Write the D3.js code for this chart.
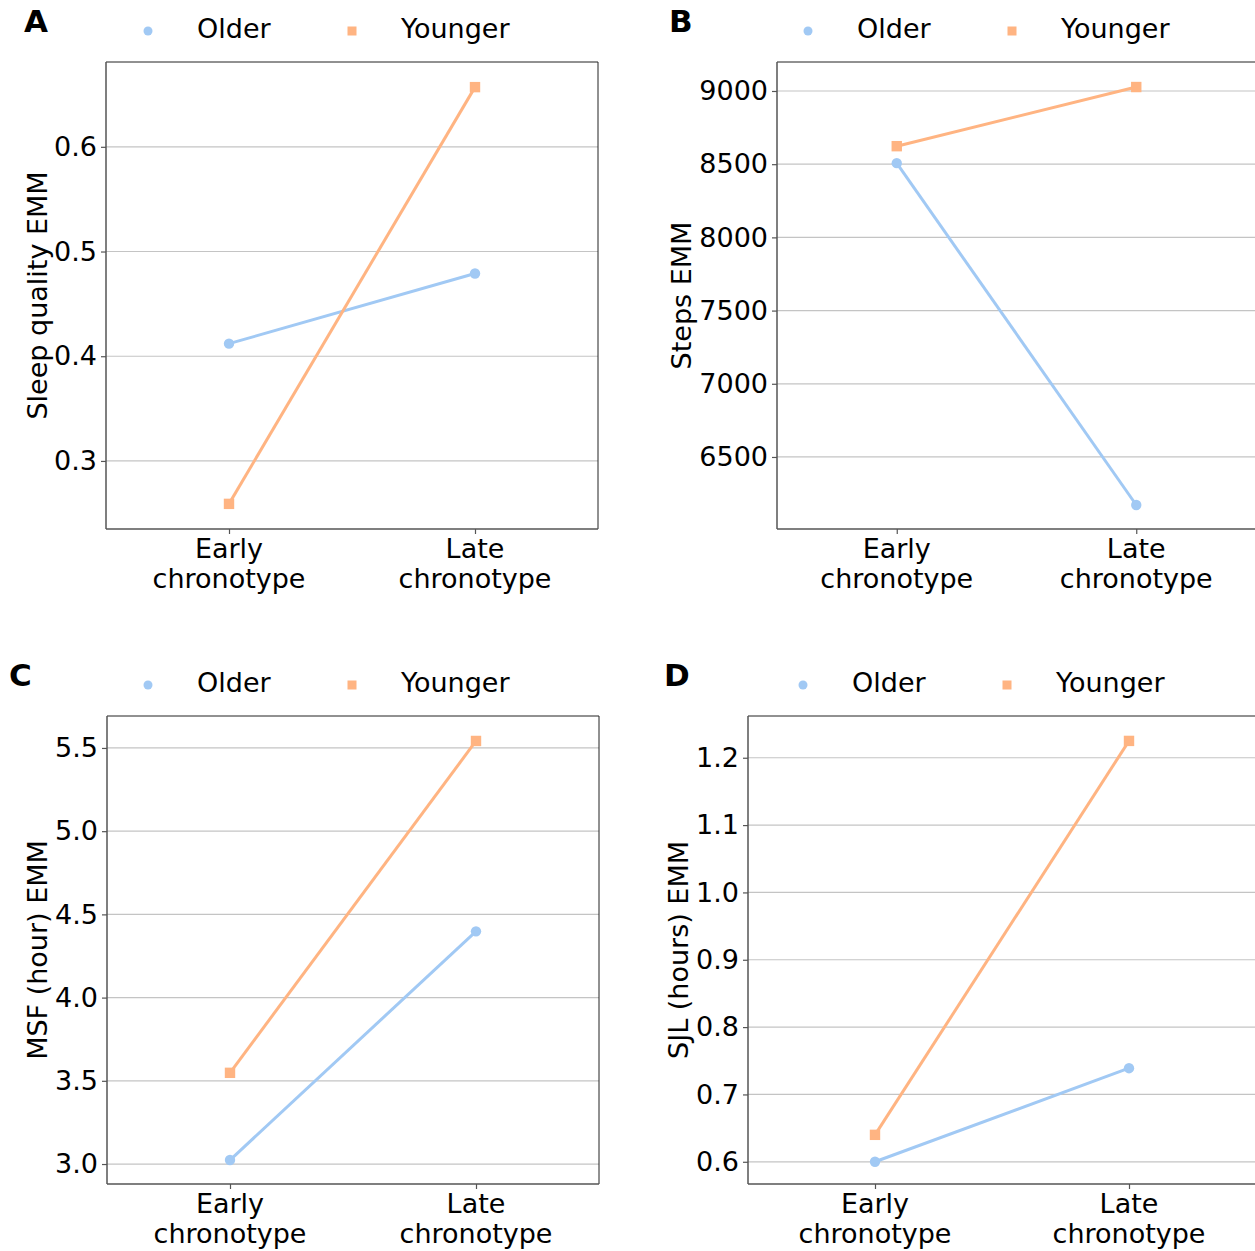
<!DOCTYPE html>
<html>
<head>
<meta charset="utf-8">
<script src="https://cdn.jsdelivr.net/npm/d3@7"></script>
<style>
  body { margin: 0; background: #fff; }
  svg text { font-family: "DejaVu Sans", sans-serif; }
</style>
</head>
<body>
<div id="chart"></div>
<script>
// categories and groups
var categories = ["Early\nchronotype", "Late\nchronotype"];
var groups = ["Older", "Younger"];

// EMM values per panel, [early, late]
var sleepOlder = [0.412, 0.479],
  sleepYounger = [0.259, 0.657];
var stepsOlder = [8507, 6172],
  stepsYounger = [8623, 9027];
var msfOlder = [3.024, 4.398],
  msfYounger = [3.548, 5.542];
var sjlOlder = [0.6, 0.739],
  sjlYounger = [0.64, 1.225];

// y ticks
var sleepTicks = [0.3, 0.4, 0.5, 0.6];
var stepsTicks = [6500, 7000, 7500, 8000, 8500, 9000];
var msfTicks = [3.0, 3.5, 4.0, 4.5, 5.0, 5.5];
var sjlTicks = [0.6, 0.7, 0.8, 0.9, 1.0, 1.1, 1.2];

var color = d3.scaleOrdinal().domain(groups).range(["#a1c9f4", "#ffb482"]);

var panels = [
  {
    letter: "A", label: "Sleep quality EMM",
    older: sleepOlder, younger: sleepYounger, ticks: sleepTicks, fmt: ".1f",
    domain: [0.235, 0.681],
    box: { left: 106, right: 598, top: 62, bottom: 529 },
    letterX: 24, labelX: 37, legendX: 148,
  },
  {
    letter: "B", label: "Steps EMM",
    older: stepsOlder, younger: stepsYounger, ticks: stepsTicks, fmt: "d",
    domain: [6008, 9198],
    box: { left: 777, right: 1256, top: 62, bottom: 529 },
    letterX: 669, labelX: 681, legendX: 808,
  },
  {
    letter: "C", label: "MSF (hour) EMM",
    older: msfOlder, younger: msfYounger, ticks: msfTicks, fmt: ".1f",
    domain: [2.88, 5.692],
    box: { left: 107, right: 599, top: 716, bottom: 1184 },
    letterX: 9, labelX: 37, legendX: 148,
  },
  {
    letter: "D", label: "SJL (hours) EMM",
    older: sjlOlder, younger: sjlYounger, ticks: sjlTicks, fmt: ".1f",
    domain: [0.567, 1.262],
    box: { left: 748, right: 1256, top: 716, bottom: 1184 },
    letterX: 664, labelX: 678, legendX: 803,
  },
];

var svg = d3
  .select("#chart")
  .append("svg")
  .attr("width", 1255)
  .attr("height", 1251);

var fontSize = 27;

panels.forEach(function (p) {
  var b = p.box;
  var x = d3
    .scalePoint()
    .domain(categories)
    .range([b.left, b.right])
    .padding(0.5);
  var y = d3.scaleLinear().domain(p.domain).range([b.bottom, b.top]);

  var g = svg.append("g");

  // grid
  g.append("g")
    .selectAll("line")
    .data(p.ticks)
    .join("line")
    .attr("x1", b.left)
    .attr("x2", b.right)
    .attr("y1", (d) => y(d))
    .attr("y2", (d) => y(d))
    .attr("stroke", "#c4c4c4")
    .attr("stroke-width", 1.2);

  // y axis
  var yAxis = g
    .append("g")
    .attr("transform", "translate(" + b.left + ",0)")
    .call(
      d3.axisLeft(y).tickValues(p.ticks).tickSize(5).tickPadding(4)
        .tickFormat(d3.format(p.fmt))
    );
  yAxis.select(".domain").remove();
  yAxis.selectAll(".tick line").attr("stroke", "#555").attr("stroke-width", 1.2);
  yAxis
    .selectAll(".tick text")
    .attr("fill", "#000")
    .style("font-size", fontSize + "px")
    .style("font-family", "DejaVu Sans");

  // x axis
  var xAxis = g
    .append("g")
    .attr("transform", "translate(0," + b.bottom + ")")
    .call(d3.axisBottom(x).tickSize(5).tickFormat(""));
  xAxis.select(".domain").remove();
  xAxis.selectAll(".tick line").attr("stroke", "#555").attr("stroke-width", 1.2);

  categories.forEach(function (c) {
    var lines = c.split("\n");
    var t = g
      .append("text")
      .attr("x", x(c))
      .attr("y", b.bottom + 29)
      .attr("text-anchor", "middle")
      .style("font-size", fontSize + "px");
    lines.forEach(function (l, i) {
      t.append("tspan")
        .attr("x", x(c))
        .attr("dy", i === 0 ? 0 : 30)
        .text(l);
    });
  });

  // spines
  g.append("line")
    .attr("x1", b.left).attr("x2", b.right)
    .attr("y1", b.top).attr("y2", b.top)
    .attr("stroke", "#222").attr("stroke-width", 1);
  g.append("line")
    .attr("x1", b.right).attr("x2", b.right)
    .attr("y1", b.top).attr("y2", b.bottom)
    .attr("stroke", "#222").attr("stroke-width", 1);
  g.append("line")
    .attr("x1", b.left).attr("x2", b.left)
    .attr("y1", b.top).attr("y2", b.bottom)
    .attr("stroke", "#555").attr("stroke-width", 1.5);
  g.append("line")
    .attr("x1", b.left).attr("x2", b.right)
    .attr("y1", b.bottom).attr("y2", b.bottom)
    .attr("stroke", "#555").attr("stroke-width", 1.5);

  // y label
  g.append("text")
    .attr("transform", "translate(" + p.labelX + "," + (b.top + b.bottom) / 2 + ") rotate(-90)")
    .attr("text-anchor", "middle")
    .attr("dominant-baseline", "central")
    .style("font-size", fontSize + "px")
    .text(p.label);

  // series
  var series = [
    { name: "Older", values: p.older },
    { name: "Younger", values: p.younger },
  ];
  var line = d3
    .line()
    .x((d, i) => x(categories[i]))
    .y((d) => y(d));

  series.forEach(function (s) {
    g.append("path")
      .attr("d", line(s.values))
      .attr("fill", "none")
      .attr("stroke", color(s.name))
      .attr("stroke-width", 3);
    if (s.name === "Older") {
      g.selectAll(null)
        .data(s.values)
        .join("circle")
        .attr("cx", (d, i) => x(categories[i]))
        .attr("cy", (d) => y(d))
        .attr("r", 5.2)
        .attr("fill", color(s.name));
    } else {
      g.selectAll(null)
        .data(s.values)
        .join("rect")
        .attr("x", (d, i) => x(categories[i]) - 5.2)
        .attr("y", (d) => y(d) - 5.2)
        .attr("width", 10.4)
        .attr("height", 10.4)
        .attr("fill", color(s.name));
    }
  });

  // panel letter
  g.append("text")
    .attr("x", p.letterX)
    .attr("y", b.top - 30)
    .style("font-size", "31px")
    .style("font-weight", "bold")
    .text(p.letter);

  // legend
  var ly = b.top - 31;
  g.append("circle")
    .attr("cx", p.legendX)
    .attr("cy", ly)
    .attr("r", 4.5)
    .attr("fill", color("Older"));
  g.append("text")
    .attr("x", p.legendX + 49)
    .attr("y", b.top - 24)
    .style("font-size", fontSize + "px")
    .text("Older");
  g.append("rect")
    .attr("x", p.legendX + 204 - 4.5)
    .attr("y", ly - 4.5)
    .attr("width", 9)
    .attr("height", 9)
    .attr("fill", color("Younger"));
  g.append("text")
    .attr("x", p.legendX + 253)
    .attr("y", b.top - 24)
    .style("font-size", fontSize + "px")
    .text("Younger");
});
</script>
</body>
</html>
